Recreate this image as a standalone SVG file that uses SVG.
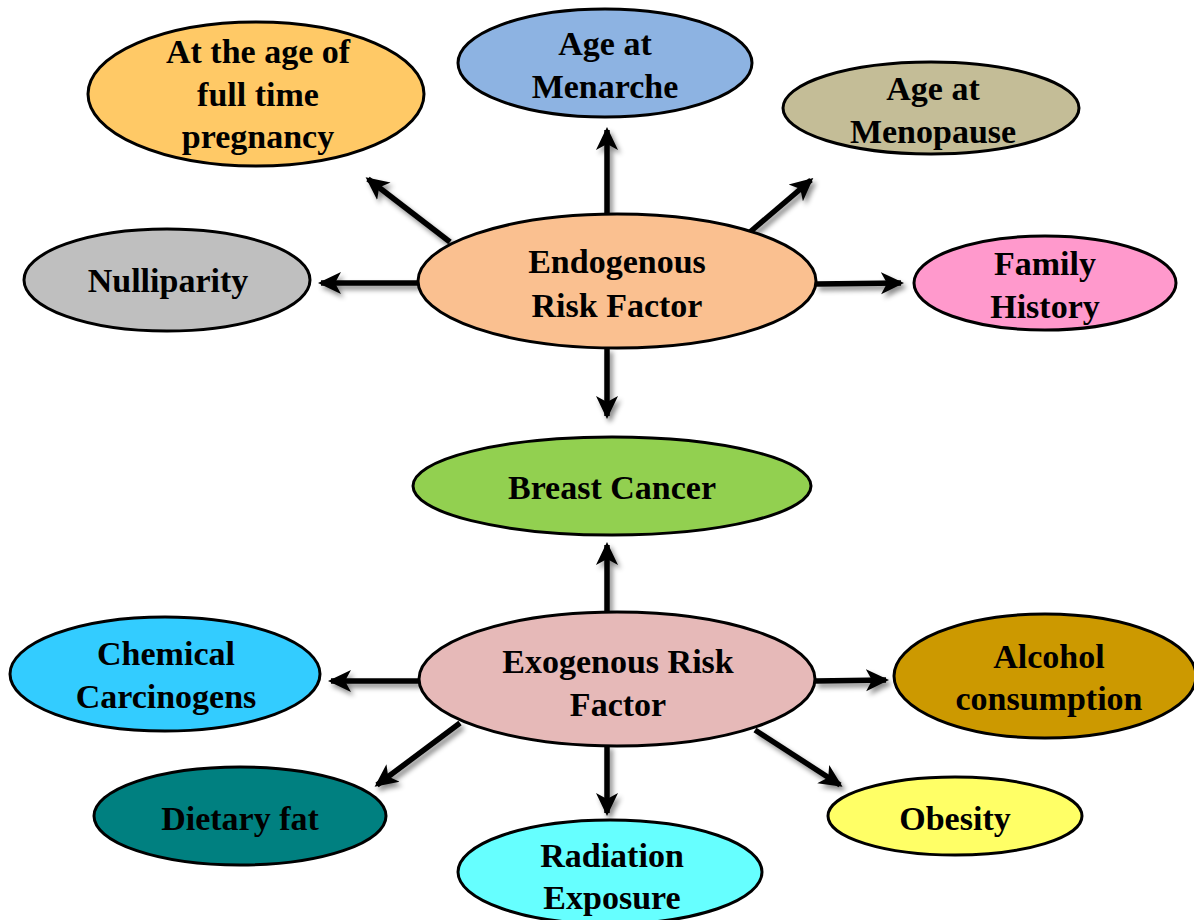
<svg xmlns="http://www.w3.org/2000/svg" width="1194" height="920" viewBox="0 0 1194 920">
<style>
.n ellipse{stroke:#000;stroke-width:3}
.n text{font-family:"Liberation Serif","Times New Roman",serif;font-weight:bold;font-size:34px;fill:#000;text-anchor:middle}
.c line{stroke:#000;stroke-width:5.5;marker-end:url(#ah)}
</style>
<defs>
<marker id="ah" viewBox="0 0 24 24" refX="20" refY="12" markerWidth="24" markerHeight="24" markerUnits="userSpaceOnUse" orient="auto">
<path d="M0,1 L23,12 L0,23 L6,12 Z" fill="#000"/>
</marker>
<filter id="sh" x="-20%" y="-20%" width="140%" height="140%">
<feDropShadow dx="3" dy="4" stdDeviation="2.5" flood-color="#000" flood-opacity="0.45"/>
</filter>
</defs>
<rect width="1194" height="920" fill="#fff"/>
<g id="connectors" class="c" filter="url(#sh)">
<line x1="607" y1="214" x2="607" y2="130"/>
<line x1="607" y1="348" x2="607" y2="416"/>
<line x1="607" y1="612" x2="607" y2="545"/>
<line x1="607" y1="745" x2="607" y2="813"/>
<line x1="450" y1="242" x2="368" y2="179"/>
<line x1="418" y1="283" x2="321" y2="283"/>
<line x1="750" y1="232" x2="811" y2="180"/>
<line x1="816" y1="284" x2="901" y2="283"/>
<line x1="420" y1="681" x2="331" y2="681"/>
<line x1="460" y1="723" x2="377" y2="785"/>
<line x1="815" y1="681" x2="886" y2="680"/>
<line x1="755" y1="730" x2="840" y2="785"/>
</g>
<g id="pregnancy" class="n"><ellipse cx="256" cy="94" rx="168" ry="72" fill="#FFC966"/><text x="258" y="63">At the age of</text><text x="258" y="106">full time</text><text x="258" y="148">pregnancy</text></g>
<g id="menarche" class="n"><ellipse cx="605" cy="63" rx="147" ry="54" fill="#8DB3E2"/><text x="605" y="55">Age at</text><text x="605" y="98">Menarche</text></g>
<g id="menopause" class="n"><ellipse cx="931" cy="108" rx="148" ry="46" fill="#C4BD97"/><text x="933" y="100">Age at</text><text x="933" y="143">Menopause</text></g>
<g id="nulliparity" class="n"><ellipse cx="167" cy="280" rx="143" ry="51" fill="#BFBFBF"/><text x="168" y="292">Nulliparity</text></g>
<g id="endogenous" class="n"><ellipse cx="617" cy="281" rx="199" ry="67" fill="#FAC090"/><text x="617" y="273">Endogenous</text><text x="617" y="317">Risk Factor</text></g>
<g id="family" class="n"><ellipse cx="1045" cy="283" rx="131" ry="47" fill="#FF99CC"/><text x="1045" y="275">Family</text><text x="1045" y="318">History</text></g>
<g id="breast" class="n"><ellipse cx="612" cy="486" rx="199" ry="49" fill="#92D050"/><text x="612" y="499">Breast Cancer</text></g>
<g id="exogenous" class="n"><ellipse cx="617" cy="679" rx="198" ry="67" fill="#E6B9B8"/><text x="618" y="673">Exogenous Risk</text><text x="618" y="716">Factor</text></g>
<g id="chemical" class="n"><ellipse cx="165" cy="674" rx="155" ry="57" fill="#33CCFF"/><text x="166" y="665">Chemical</text><text x="166" y="708">Carcinogens</text></g>
<g id="alcohol" class="n"><ellipse cx="1045" cy="676" rx="151" ry="62" fill="#CC9900"/><text x="1049" y="668">Alcohol</text><text x="1049" y="710">consumption</text></g>
<g id="dietary" class="n"><ellipse cx="240" cy="816" rx="146" ry="49" fill="#008080"/><text x="240" y="830">Dietary fat</text></g>
<g id="obesity" class="n"><ellipse cx="955" cy="816" rx="127" ry="39" fill="#FFFF66"/><text x="955" y="830">Obesity</text></g>
<g id="radiation" class="n"><ellipse cx="610" cy="872" rx="152" ry="52" fill="#66FFFF"/><text x="612" y="867">Radiation</text><text x="612" y="909">Exposure</text></g>
</svg>
